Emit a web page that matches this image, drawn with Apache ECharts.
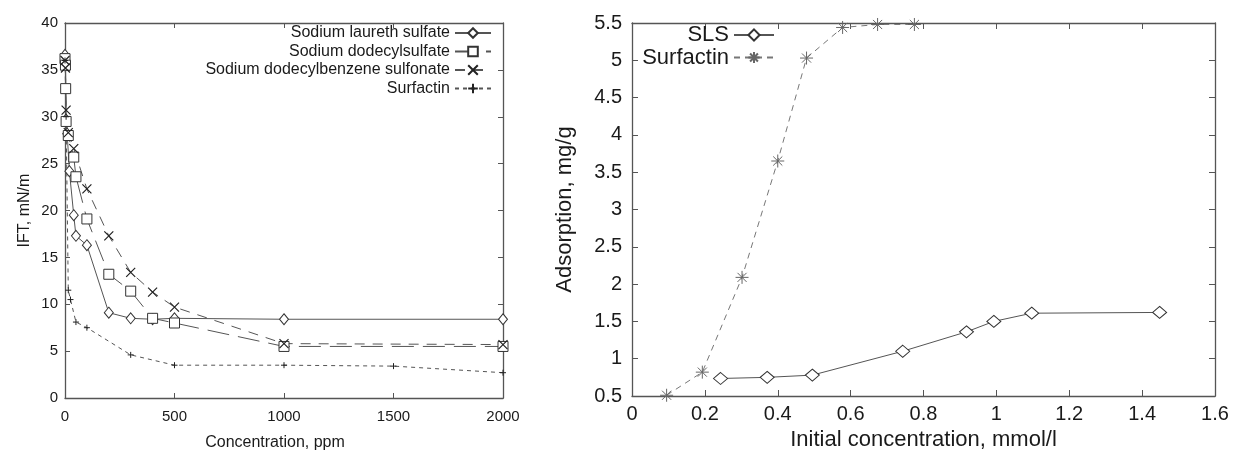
<!DOCTYPE html>
<html>
<head>
<meta charset="utf-8">
<style>html,body{margin:0;padding:0;background:#fff;}#c{width:1238px;height:456px;}</style>
<script src="https://cdn.jsdelivr.net/npm/echarts@6/dist/echarts.min.js"></script>
</head>
<body>
<div id="c"></div>
<script>
// ---- Left chart: IFT vs concentration ----
const slesConc = [0, 2, 5, 10, 20, 40, 50, 100, 200, 300, 400, 500, 1000, 2000];
const slesIFT  = [36.6, 35.9, 29.7, 28.2, 24.2, 19.5, 17.3, 16.3, 9.1, 8.5, 8.4, 8.5, 8.4, 8.4];
const sdsConc  = [0, 2, 3, 5, 15, 40, 50, 100, 200, 300, 400, 500, 1000, 2000];
const sdsIFT   = [36.2, 35.5, 33.0, 29.5, 28.0, 25.7, 23.6, 19.1, 13.2, 11.4, 8.5, 8.0, 5.5, 5.5];
const sdbsConc = [0, 2, 5, 15, 40, 100, 200, 300, 400, 500, 1000, 2000];
const sdbsIFT  = [36.0, 35.2, 30.7, 28.3, 26.6, 22.3, 17.3, 13.4, 11.3, 9.7, 5.8, 5.7];
const surfConc = [0, 5, 15, 25, 50, 100, 300, 500, 1000, 1500, 2000];
const surfIFT  = [36.0, 30.0, 11.5, 10.5, 8.1, 7.5, 4.6, 3.5, 3.5, 3.4, 2.7];
const leftNames = ['Sodium laureth sulfate', 'Sodium dodecylsulfate', 'Sodium dodecylbenzene sulfonate', 'Surfactin'];

// ---- Right chart: adsorption vs initial concentration ----
const slsAdsConc  = [0.243, 0.371, 0.495, 0.743, 0.918, 0.993, 1.097, 1.448];
const slsAds      = [0.735, 0.75, 0.78, 1.10, 1.36, 1.50, 1.61, 1.62];
const surfAdsConc = [0.095, 0.193, 0.302, 0.400, 0.479, 0.578, 0.674, 0.775];
const surfAds     = [0.51, 0.82, 2.09, 3.65, 5.03, 5.44, 5.48, 5.48];
const rightNames  = ['SLS', 'Surfactin'];

const pairs = (xs, ys) => xs.map((x, i) => [x, ys[i]]);
const FONT = 'Liberation Sans, Arial, sans-serif';
const AXC = '#555';
const TXT = '#1a1a1a';

const X_SYM = 'path://M0,0L10,10M10,0L0,10';
const PLUS_SYM = 'path://M5,0L5,10M0,5L10,5';
const STAR_SYM = 'path://M5,0L5,10M0,5L10,5M1.5,1.5L8.5,8.5M8.5,1.5L1.5,8.5';

function frameAxis(gridIndex, pos, min, max, interval, tickLen) {
  return {
    type: 'value', gridIndex, position: pos, min, max, interval,
    axisLine: { show: true, onZero: false, lineStyle: { color: AXC, width: 1.3 } },
    axisTick: { show: true, inside: true, length: tickLen, lineStyle: { color: AXC } },
    axisLabel: { show: false }, splitLine: { show: false }
  };
}

const chart = echarts.init(document.getElementById('c'), null, { renderer: 'canvas' });
chart.setOption({
  backgroundColor: '#fff',
  animation: false,
  textStyle: { fontFamily: FONT },
  grid: [
    { left: 65, right: 735, top: 23, bottom: 54 },
    { left: 632, right: 23, top: 23, bottom: 56 }
  ],
  xAxis: [
    {
      type: 'value', gridIndex: 0, position: 'bottom', min: 0, max: 2000, interval: 500,
      axisLine: { show: true, onZero: false, lineStyle: { color: AXC, width: 1.3 } },
      axisTick: { show: true, inside: true, length: 5, lineStyle: { color: AXC } },
      axisLabel: { color: TXT, fontSize: 15, fontFamily: FONT, margin: 11, formatter: v => String(v) },
      splitLine: { show: false },
      name: 'Concentration, ppm', nameLocation: 'middle', nameGap: 37,
      nameTextStyle: { color: TXT, fontSize: 16, fontFamily: FONT, padding: [0, 18, 0, 0] }
    },
    frameAxis(0, 'top', 0, 2000, 500, 5),
    {
      type: 'value', gridIndex: 1, position: 'bottom', min: 0, max: 1.6, interval: 0.2,
      axisLine: { show: true, onZero: false, lineStyle: { color: AXC, width: 1.3 } },
      axisTick: { show: true, inside: true, length: 6, lineStyle: { color: AXC } },
      axisLabel: { color: TXT, fontSize: 20, fontFamily: FONT, margin: 8 },
      splitLine: { show: false },
      name: 'Initial concentration, mmol/l', nameLocation: 'middle', nameGap: 33,
      nameTextStyle: { color: TXT, fontSize: 22, fontFamily: FONT }
    },
    frameAxis(1, 'top', 0, 1.6, 0.2, 6)
  ],
  yAxis: [
    {
      type: 'value', gridIndex: 0, position: 'left', min: 0, max: 40, interval: 5,
      axisLine: { show: true, onZero: false, lineStyle: { color: AXC, width: 1.3 } },
      axisTick: { show: true, inside: true, length: 5, lineStyle: { color: AXC } },
      axisLabel: { color: TXT, fontSize: 15, fontFamily: FONT, margin: 7 },
      splitLine: { show: false },
      name: 'IFT, mN/m', nameLocation: 'middle', nameGap: 32, nameRotate: 90,
      nameTextStyle: { color: TXT, fontSize: 16, fontFamily: FONT }
    },
    frameAxis(0, 'right', 0, 40, 5, 5),
    {
      type: 'value', gridIndex: 1, position: 'left', min: 0.5, max: 5.5, interval: 0.5,
      axisLine: { show: true, onZero: false, lineStyle: { color: AXC, width: 1.3 } },
      axisTick: { show: true, inside: true, length: 6, lineStyle: { color: AXC } },
      axisLabel: { color: TXT, fontSize: 20, fontFamily: FONT, margin: 10 },
      splitLine: { show: false },
      name: 'Adsorption, mg/g', nameLocation: 'middle', nameGap: 56, nameRotate: 90,
      nameTextStyle: { color: TXT, fontSize: 22, fontFamily: FONT }
    },
    frameAxis(1, 'right', 0.5, 5.5, 0.5, 6)
  ],
  legend: [
    {
      data: leftNames, orient: 'vertical', align: 'right',
      right: 746, top: 25, padding: 0, itemGap: 2.5,
      itemWidth: 36, itemHeight: 12,
      textStyle: { color: TXT, fontSize: 16, fontFamily: FONT, lineHeight: 16 },
      selectedMode: false
    },
    {
      data: rightNames.map(n => n === 'Surfactin' ? 'Surfactin (adsorption)' : n),
      formatter: n => n === 'Surfactin (adsorption)' ? 'Surfactin' : n,
      orient: 'vertical', align: 'right',
      right: 463, top: 24, padding: 0, itemGap: 0.5,
      itemWidth: 40, itemHeight: 14,
      textStyle: { color: TXT, fontSize: 22, fontFamily: FONT, lineHeight: 18 },
      selectedMode: false
    }
  ],
  series: [
    {
      name: leftNames[0], type: 'line', xAxisIndex: 0, yAxisIndex: 0, clip: false,
      data: pairs(slesConc, slesIFT),
      symbol: 'diamond', symbolSize: [9, 11],
      lineStyle: { color: '#555', width: 1, type: 'solid' },
      itemStyle: { color: '#fff', borderColor: '#333', borderWidth: 1 }
    },
    {
      name: leftNames[1], type: 'line', xAxisIndex: 0, yAxisIndex: 0, clip: false,
      data: pairs(sdsConc, sdsIFT),
      symbol: 'rect', symbolSize: 10,
      lineStyle: { color: '#555', width: 1, type: [22, 9] },
      itemStyle: { color: '#fff', borderColor: '#333', borderWidth: 1 }
    },
    {
      name: leftNames[2], type: 'line', xAxisIndex: 0, yAxisIndex: 0, clip: false,
      data: pairs(sdbsConc, sdbsIFT),
      symbol: X_SYM, symbolSize: 9,
      lineStyle: { color: '#555', width: 1, type: [10, 8] },
      itemStyle: { color: 'rgba(0,0,0,0)', borderColor: '#222', borderWidth: 1.2 }
    },
    {
      name: leftNames[3], type: 'line', xAxisIndex: 0, yAxisIndex: 0, clip: false,
      data: pairs(surfConc, surfIFT),
      symbol: PLUS_SYM, symbolSize: 6,
      lineStyle: { color: '#555', width: 1, type: [4, 4] },
      itemStyle: { color: 'rgba(0,0,0,0)', borderColor: '#222', borderWidth: 1 }
    },
    {
      name: 'SLS', type: 'line', xAxisIndex: 2, yAxisIndex: 2, clip: false,
      data: pairs(slsAdsConc, slsAds),
      symbol: 'diamond', symbolSize: [14, 12],
      lineStyle: { color: '#555', width: 1, type: 'solid' },
      itemStyle: { color: '#fff', borderColor: '#333', borderWidth: 1 }
    },
    {
      name: 'Surfactin (adsorption)', type: 'line', xAxisIndex: 2, yAxisIndex: 2, clip: false,
      data: pairs(surfAdsConc, surfAds),
      symbol: STAR_SYM, symbolSize: 13,
      lineStyle: { color: '#777', width: 1, type: [6, 5] },
      itemStyle: { color: 'rgba(0,0,0,0)', borderColor: '#666', borderWidth: 1 }
    }
  ]
});
</script>
</body>
</html>
